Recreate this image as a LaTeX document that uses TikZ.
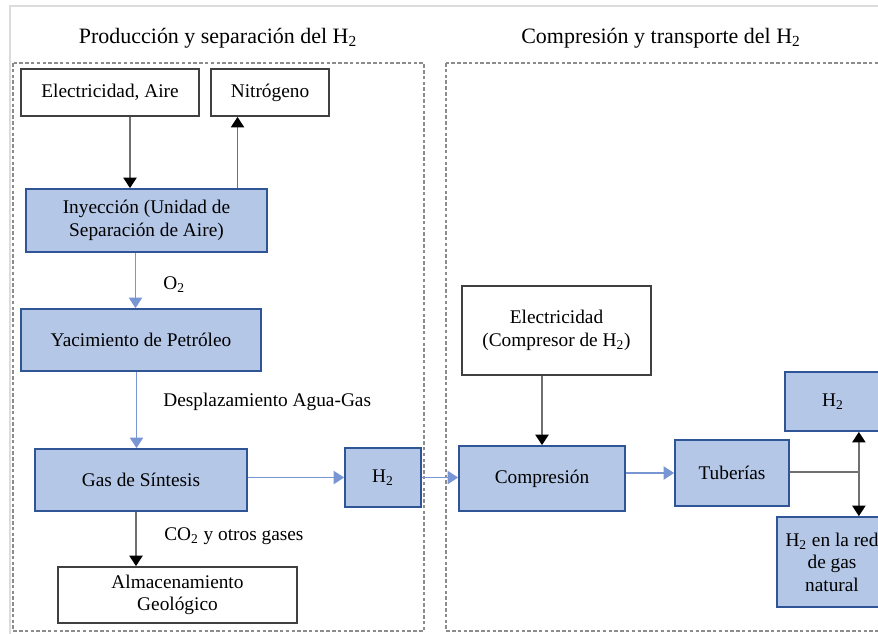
\documentclass[tikz,border=0pt]{standalone}
\usepackage{fontspec}
\setmainfont{Liberation Serif}
\usepackage{xcolor}
\usetikzlibrary{arrows.meta,calc}
\definecolor{azulcaja}{HTML}{B4C7E7}
\definecolor{azulborde}{HTML}{2F5597}
\definecolor{azulflecha}{HTML}{7896D4}
\definecolor{grisborde}{HTML}{404040}
\definecolor{grislinea}{HTML}{707070}
\definecolor{grismarco}{HTML}{8C8C8C}
\definecolor{grishoja}{HTML}{DCDCDC}
\newcommand{\hdos}{H\textsubscript{2}}

\begin{document}
\begin{tikzpicture}[x=0.02cm,y=-0.02cm,
	cajablanca/.style={draw=grisborde,line width=1pt,fill=white,align=center,inner sep=0pt,font=\fontsize{11}{12.8}\selectfont},
	cajaazul/.style={cajablanca,draw=azulborde,fill=azulcaja},
	marco/.style={draw=grismarco,line width=0.8pt,dash pattern=on 2pt off 1.3pt},
	flechaazul/.style={draw=azulflecha,line width=1pt,-{Triangle[width=7.5pt,length=6pt]}},
	flechagris/.style={draw=grislinea,line width=1.1pt,-{Triangle[width=7.5pt,length=6pt,black]}},
	etiqueta/.style={anchor=west,inner sep=0pt,font=\fontsize{11}{12.8}\selectfont},
	titulo/.style={font=\fontsize{12.5}{15}\selectfont}]
			\useasboundingbox (0,0) rectangle (878,633);
			\clip (0,0) rectangle (878,633);
			\fill[white] (0,0) rectangle (878,633);
			% hoja y recuadros
			\draw[grishoja,line width=1.2pt] (10,640) -- (10,6) -- (890,6);
			\draw[marco] (13,63) rectangle (424,631);
			\draw[marco] (446,63) rectangle (900,631);
			\node[titulo] (tituno) at (218,38) {Producción y separación del \hdos};
			\node[titulo] (titdos) at (661,38) {Compresión y transporte del \hdos};
			% produccion
			\node[cajablanca,minimum width=3.56cm,minimum height=0.94cm] (elec) at (110,92.5) {Electricidad, Aire};
			\node[cajablanca,minimum width=2.36cm,minimum height=0.94cm] (nitro) at (270,92.5) {Nitrógeno};
			\node[cajaazul,minimum width=4.82cm,minimum height=1.26cm] (iny) at (146.5,220.5) {Inyección (Unidad de\\Separación de Aire)};
			\node[cajaazul,minimum width=4.8cm,minimum height=1.24cm] (yac) at (141,340) {Yacimiento de Petróleo};
			\node[cajaazul,minimum width=4.24cm,minimum height=1.24cm] (gas) at (141,480) {Gas de Síntesis};
			\node[cajablanca,minimum width=4.78cm,minimum height=1.12cm] (alm) at (177.5,595) {Almacenamiento\\Geológico};
			\node[cajaazul,minimum width=1.52cm,minimum height=1.18cm] (hizq) at (383,477.5) {\hdos};
			\node[etiqueta] (otwo) at (163,285) {O\textsubscript{2}};
			\node[etiqueta] (despl) at (163,402) {Desplazamiento Agua-Gas};
			\node[etiqueta] (cotwo) at (164,536) {CO\textsubscript{2} y otros gases};
			% compresion y transporte
			\node[cajablanca,minimum width=3.78cm,minimum height=1.78cm] (elecdos) at (556.5,330.5) {Electricidad\\(Compresor de \hdos)};
			\node[cajaazul,minimum width=3.32cm,minimum height=1.3cm] (comp) at (542,478.5) {Compresión};
			\node[cajaazul,minimum width=2.28cm,minimum height=1.32cm] (tub) at (732,473) {Tuberías};
			\node[cajaazul,minimum width=1.92cm,minimum height=1.18cm] (hder) at (833,401.5) {\hdos};
			\node[cajaazul,minimum width=2.2cm,minimum height=1.8cm] (red) at (832,562) {\hdos{} en la red\\de gas\\natural};
			% flechas
			\draw[flechagris] ([xshift=0.4cm]elec.south) -- ([xshift=0.4cm]elec.south |- iny.north);
			\draw[flechagris] ([xshift=-0.65cm]nitro.south |- iny.north) -- ([xshift=-0.65cm]nitro.south);
			\draw[flechaazul] ([xshift=-0.22cm]iny.south) -- ([xshift=-0.22cm]iny.south |- yac.north);
			\draw[flechaazul] ([xshift=-0.09cm]yac.south) -- ([xshift=-0.09cm]yac.south |- gas.north);
			\draw[flechagris] ([xshift=-0.1cm]gas.south) -- ([xshift=-0.1cm]gas.south |- alm.north);
			\draw[flechaazul] ([yshift=0.05cm]gas.east) -- ([yshift=0.05cm]gas.east -| hizq.west);
			\draw[flechaazul] (hizq.east) -- (hizq.east -| comp.west);
			\draw[flechagris] (comp.north |- elecdos.south) -- (comp.north);
			\draw[flechaazul] (tub.west -| comp.east) -- (tub.west);
			\coordinate (rama) at ($(tub.east)+(69,-1)$);
			\draw[grislinea,line width=1.1pt] ([yshift=0.02cm]tub.east) -- (rama);
			\draw[flechagris] (rama) -- (rama |- hder.south);
			\draw[flechagris] (rama) -- (rama |- red.north);
		\end{tikzpicture}
\end{document}
